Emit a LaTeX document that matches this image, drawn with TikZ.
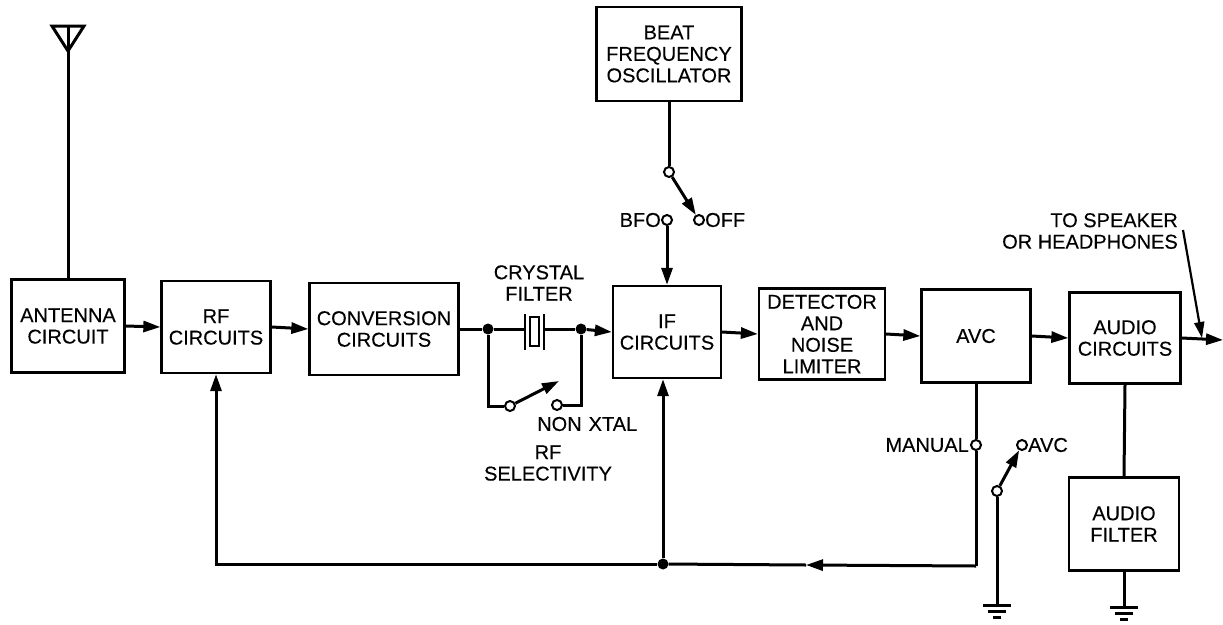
\documentclass[tikz,border=0pt]{standalone}
\usepackage{fontspec}
\setmainfont{Liberation Sans}[BoldFont=Liberation Sans,BoldFeatures={FakeBold=0.25}]
\usetikzlibrary{arrows.meta}
\begin{document}
\begin{tikzpicture}[x=1pt,y=-1pt,
  txt/.style={font=\fontsize{20}{21.5}\selectfont\bfseries},
  blk/.style={draw,line width=2.3pt,align=center,inner sep=0pt,txt},
  wire/.style={line width=3pt},
  arr/.style={wire,-{Triangle[length=17pt,width=11pt]}},
  term/.style={circle,draw,line width=2pt,fill=white,inner sep=0pt,minimum size=10pt},
  dot/.style={circle,fill,inner sep=0pt,minimum size=11pt},
  lbl/.style={txt,inner sep=0pt}]
\useasboundingbox (0,0) rectangle (1223,624);
% boxes
\node[blk,minimum width=113pt,minimum height=93pt] (ant) at (68,326) {ANTENNA\\CIRCUIT};
\node[blk,minimum width=109pt,minimum height=92pt] (rf) at (216,327) {RF\\CIRCUITS};
\node[blk,minimum width=149pt,minimum height=92pt] (conv) at (384,329) {CONVERSION\\CIRCUITS};
\node[blk,minimum width=108pt,minimum height=92pt] (if) at (667,332) {IF\\CIRCUITS};
\node[blk,minimum width=126pt,minimum height=91pt] (det) at (822,334) {DETECTOR\\AND\\NOISE\\LIMITER};
\node[blk,minimum width=109pt,minimum height=93pt] (avc) at (976,336) {AVC};
\node[blk,minimum width=111pt,minimum height=91pt] (aud) at (1125,338) {AUDIO\\CIRCUITS};
\node[blk,minimum width=110pt,minimum height=93pt] (afil) at (1124,524) {AUDIO\\FILTER};
\node[blk,minimum width=145pt,minimum height=94pt] (bfo) at (669,54) {BEAT\\FREQUENCY\\OSCILLATOR};
% antenna
\coordinate (atop) at (68,26);
\draw[wire] (ant.north) -- (atop);
\draw[wire,line join=miter] (52,26) -- (84,26) -- (68,51) -- cycle;
% main chain
\draw[arr] (ant.east) -- (rf.west);
\draw[arr] (rf.east) -- (conv.west);
\node[dot] (d1) at (488,329) {};
\node[dot] (d2) at (581,329) {};
\draw[wire] (conv.east) -- (d1);
% crystal
\coordinate (pl) at (525,329);
\coordinate (pr) at (544,329);
\draw[wire] (d1) -- (pl);
\draw[wire] (pr) -- (d2);
\draw[line width=2.4pt] (525,314) -- (525,350) (544,314) -- (544,350);
\draw[line width=2.2pt] (530,317) rectangle (539,346);
\draw[arr] (d2) -- (if.west);
% bypass switch
\node[term] (xl) at (510,406) {};
\node[term] (xr) at (557,405) {};
\coordinate (xtip) at (559,381);
\draw[wire] (d1) |- (xl);
\draw[wire] (d2) |- (xr);
\draw[arr] (xl) -- (xtip);
\node[lbl] at (539,283) [align=center] {CRYSTAL\\FILTER};
\node[lbl,anchor=west] at (537,424) {NON\hspace{0.35em}XTAL};
\node[lbl,align=center] at (548,463) {RF\\SELECTIVITY};
% BFO switch
\node[term] (bp) at (669,172) {};
\node[term] (bon) at (667,220) {};
\node[term] (boff) at (699,220) {};
\draw[wire] (bfo.south) -- (bp);
\draw[arr] (bp) -- (boff);
\draw[arr] (bon) -- (bon |- if.north);
\node[lbl,anchor=east] at (661,220) {BFO};
\node[lbl,anchor=west] at (705,220) {OFF};
% rest of chain
\draw[arr] (if.east) -- (det.west);
\draw[arr] (det.east) -- (avc.west);
\draw[arr] (avc.east) -- (aud.west);
\coordinate (out) at (1223,340);
\draw[arr] (aud.east) -- (out);
\coordinate (spk) at (1183,230);
\coordinate (spkt) at (1202,338);
\draw[line width=2.2pt,-{Triangle[length=16pt,width=10pt]}] (spk) -- (spkt);
\node[lbl,anchor=east,align=right] at (1178,231) {TO SPEAKER\\OR HEADPHONES};
% AVC feedback
\node[term] (man) at (976,445) {};
\node[term] (avct) at (1022,445) {};
\node[term] (avp) at (997,491) {};
\draw[wire] (avc.south) -- (man);
\coordinate (br) at (976,566);
\node[dot] (junc) at (663,564) {};
\coordinate (mid) at (806,565);
\draw[wire] (man) -- (br);
\draw[arr] (br) -- (mid);
\draw[wire] (mid) -- (junc);
\draw[arr] (junc) -| (rf.south);
\draw[arr] (junc) -- (junc |- if.south);
\draw[arr] (avp) -- (avct);
\node[lbl,anchor=east] at (969,445) {MANUAL};
\node[lbl,anchor=west] at (1028,445) {AVC};
% grounds
\coordinate (g1) at (997,605);
\draw[wire] (avp) -- (g1);
\draw[wire] (g1) ++(-14,0) -- ++(28,0) (g1) ++(-9,6) -- ++(18,0) (g1) ++(-4,12) -- ++(8,0);
\draw[wire] (aud.south) -- (afil.north);
\coordinate (g2) at (1124,607);
\draw[wire] (afil.south) -- (g2);
\draw[wire] (g2) ++(-14,0) -- ++(28,0) (g2) ++(-9,6) -- ++(18,0) (g2) ++(-4,12) -- ++(8,0);
\end{tikzpicture}
\end{document}
